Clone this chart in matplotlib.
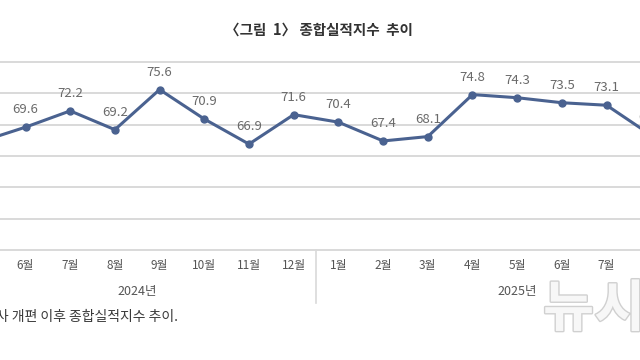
import matplotlib
matplotlib.use("Agg")
import matplotlib.pyplot as plt
import matplotlib.transforms as mtransforms
import matplotlib.patheffects as pe

plt.rcParams['font.family'] = ['Noto Sans CJK KR', 'DejaVu Sans']

title = "〈그림  1〉 종합실적지수  추이"
months = ['5월', '6월', '7월', '8월', '9월', '10월', '11월', '12월',
          '1월', '2월', '3월', '4월', '5월', '6월', '7월', '8월', '9월']
years = ['2024년', '2025년']
year_month_counts = [8, 9]
values = [67.3, 69.6, 72.2, 69.2, 75.6, 70.9, 66.9, 71.6,
          70.4, 67.4, 68.1, 74.8, 74.3, 73.5, 73.1, 68.3]
yticks = [50, 55, 60, 65, 70, 75, 80]
footnote = "주: 2024년 5월 조사 개편 이후 종합실적지수 추이."

W, H = 640, 360
fig = plt.figure(figsize=(6.4, 3.6), dpi=100)
ax = fig.add_axes([0, 1 - 250 / H, 1, 188 / H])

step = 44.7
x0 = -19.2  # pixel of first category
ax.set_xlim(-x0 / step, (W - x0) / step)
ax.set_ylim(yticks[0], yticks[-1])

for s in ax.spines.values():
    s.set_visible(False)
ax.set_xticks([])
ax.set_yticks([])

grid_c = '#d9d9d9'
for t in yticks:
    ax.axhline(t, color=grid_c, lw=1.4, clip_on=False, zorder=1)

xs = list(range(len(values)))
line_c = '#4a6290'
ax.plot(xs, values, color=line_c, lw=2.2, marker='o', ms=5, zorder=3,
        clip_on=False)
for x, v in zip(xs, values):
    ax.annotate(f"{v:.1f}", (x, v), xytext=(0, 12.5), textcoords='offset points',
                ha='center', va='center', fontsize=9.5, color='#6a6a6a',
                annotation_clip=False)

trans = mtransforms.blended_transform_factory(ax.transData, fig.transFigure)
for i, m in enumerate(months):
    ax.text(i, 1 - 266 / H, m, transform=trans, ha='center', va='center',
            fontsize=8.5, color='#555555')

start = 0
for yr, n in zip(years, year_month_counts):
    center = start + (n - 1) / 2
    ax.text(center, 1 - 292 / H, yr, transform=trans, ha='center', va='center',
            fontsize=9, color='#555555')
    if start > 0:
        ax.plot([start - 0.5, start - 0.5], [1 - 250 / H, 1 - 303 / H],
                transform=trans, color=grid_c, lw=1.2, clip_on=False)
    start += n

fig.text(319 / W, 1 - 30 / H, title, ha='center', va='center', fontsize=10.5,
         fontweight='bold', color='#333333')

fig.text(178 / W, 1 - 317 / H, footnote, ha='right', va='center',
         fontsize=10, color='#3a3a3a')

wm = fig.text(543 / W, 1 - 310 / H, "뉴시스", ha='left', va='center',
              fontsize=40, fontweight='bold', color='#f7f7f7')
wm.set_path_effects([pe.withStroke(linewidth=2, foreground='#d0d0d0')])

fig.savefig('out.png', dpi=100)
